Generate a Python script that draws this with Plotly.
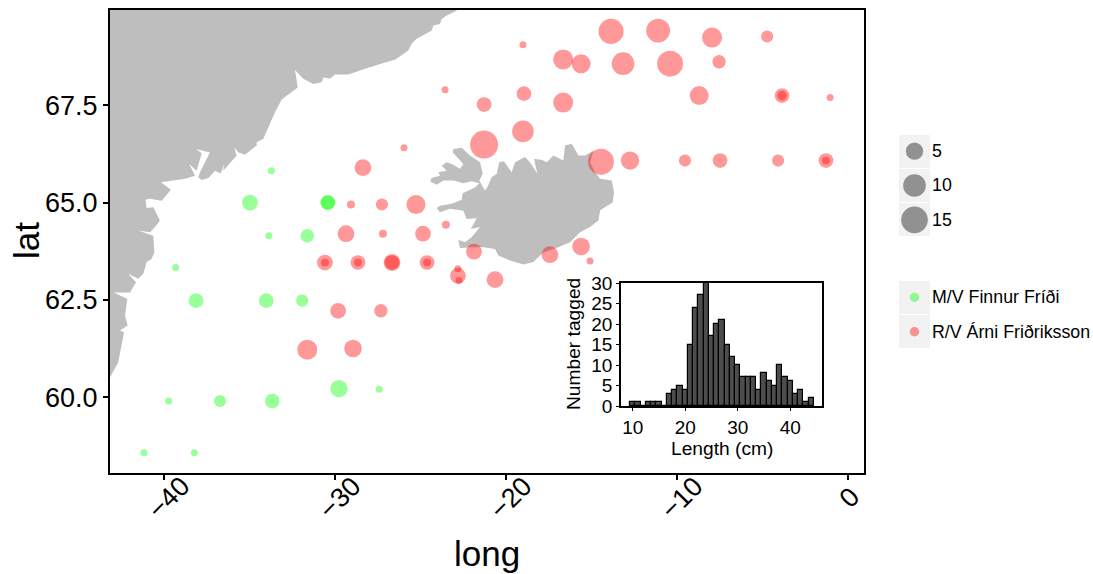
import numpy as np
import plotly.graph_objects as go

W, H = 1093, 574

# ---- data -------------------------------------------------------------
green_lon = [-33.7,-34.95,-30.4,-30.4,-33.85,-31.6,-39.3,-38.1,-34.0,-31.9,-29.75,-27.4,-39.7,-36.7,-33.65,-41.15,-38.2]
green_lat = [65.82,65.0,65.0,65.0,64.15,64.15,63.33,62.48,62.48,62.48,60.22,60.2,59.9,59.9,59.9,58.57,58.57]
green_n   = [1,4.4,4,4,1,3.5,1,4,4,3,5,1,1,3,4,1,1]

red_lon = [-13.85,-11.1,-7.95,-4.73,-19.0,-16.65,-15.6,-13.15,-10.4,-7.54,-23.55,-18.94,-21.27,-16.65,-8.7,-3.86,-3.86,-1.05,
           -19.0,-21.27,-25.95,-28.35,-14.44,-12.74,-9.53,-7.48,-4.09,-1.29,-1.29,-29.05,-27.24,-25.25,-29.34,-27.18,-24.84,-23.5,
           -30.57,-30.57,-28.64,-28.64,-26.65,-26.65,-24.6,-24.6,-21.86,-22.8,-22.8,-22.74,-20.63,-17.42,-15.6,-15.08,-29.8,-27.3,-31.6,-28.93]
red_lat = [69.4,69.42,69.24,69.27,69.06,68.68,68.57,68.57,68.57,68.62,67.9,67.8,67.52,67.57,67.75,67.75,67.75,67.7,
           66.83,66.49,66.41,65.9,66.05,66.08,66.08,66.08,66.08,66.08,66.08,64.95,64.95,64.95,64.2,64.2,64.2,64.43,
           63.46,63.46,63.46,63.46,63.46,63.46,63.46,63.46,63.74,63.12,63.3,63.0,63.02,63.66,63.87,63.5,62.22,62.22,61.22,61.25]
red_n = [13,11.5,7.5,3,1,7.5,6.6,10,14,3.5,1,4,4,7.5,6.6,4,2,1,
         9,16.5,1,4.8,14,6,3,4,3,4,1.4,1.4,3,6.6,4.8,1.4,4.4,1.4,
         4.4,1.4,4,1.4,4.8,4,4,1.4,4.4,4.4,1,1,4.8,4.8,5.3,1,4.4,3.5,7.5,5.3]

greenland_lon = [-22.3,-22.97,-23.45,-23.75,-23.85,-24.24,-24.33,-24.92,-25.21,-25.5,-25.7,-26.48,-27.16,-28.13,-29.2,-29.98,-30.27,-30.66,-30.76,-31.25,-31.84,-32.32,-32.22,-32.16,-33.1,-33.49,-34.17,-34.56,-34.56,-35.24,-35.63,-35.87,-35.73,-36.51,-36.47,-36.66,-36.99,-37.38,-37.77,-37.97,-37.87,-37.29,-38.1,-37.77,-38.07,-38.5,-38.16,-38.75,-40.15,-39.57,-40.11,-40.79,-41.05,-40.99,-40.6,-40.21,-40.5,-40.79,-41.48,-40.89,-40.6,-40.54,-40.7,-40.99,-41.18,-41.48,-42.06,-41.61,-41.96,-42.9,-42.12,-42.25,-42.1,-42.55,-42.31,-42.65,-43.13,-45,-50,-50]
greenland_lat = [70.1,69.91,69.81,69.72,69.59,69.55,69.42,69.29,69.21,69.08,68.91,68.67,68.59,68.45,68.29,68.29,68.18,68.22,68.09,68.05,68.18,68.41,68.18,67.96,67.65,67.32,66.64,66.55,66.47,66.23,66.29,66.42,66.21,65.82,65.99,65.75,65.82,65.63,65.58,65.65,65.78,66.29,66.38,66.27,65.82,65.99,65.69,65.61,65.52,65.33,65.05,65.1,65.07,64.86,64.88,64.54,64.37,64.24,64.28,64.2,64.15,63.72,63.55,63.47,63.17,63.04,63.17,62.95,62.69,62.69,62.52,62.09,61.84,61.71,61.67,60.89,60.51,60,60,70.1]

iceland_lon = [-23.07,-22.58,-22.09,-21.51,-21.35,-21.55,-21.22,-21.05,-20.83,-20.53,-20.38,-20.11,-19.66,-19.46,-18.88,-18.59,-18.16,-18.35,-17.9,-17.61,-17.22,-16.64,-16.54,-16.15,-15.76,-15.37,-14.88,-15.08,-14.79,-14.49,-13.81,-13.68,-13.75,-14.49,-14.59,-15.08,-15.66,-16.25,-16.93,-17.81,-18.39,-18.98,-19.75,-20.44,-20.63,-21.31,-22.0,-22.68,-22.77,-22.39,-22.0,-21.51,-22.05,-21.7,-22.29,-22.48,-23.26,-23.85,-24.04,-23.85,-23.16,-22.58,-22.52,-21.8,-21.55,-22.0,-22.48,-23.07,-23.65,-24.04,-24.43,-24.33,-23.85,-23.94,-23.46,-23.75,-23.46,-23.16,-22.68,-22.48,-23.1]
iceland_lat = [66.38,66.41,66.21,66.04,65.74,65.57,65.31,65.42,65.65,65.74,66.04,66.06,65.78,66.04,66.17,66.04,65.74,66.12,66.1,66.04,66.21,66.08,66.47,66.51,66.21,66.21,66.34,66.04,65.78,65.61,65.57,65.27,65.01,64.8,64.54,64.37,64.24,63.98,63.85,63.72,63.47,63.41,63.51,63.64,63.81,63.85,63.85,63.83,64.04,63.98,64.11,64.37,64.32,64.6,64.58,64.79,64.84,64.75,64.86,64.92,64.97,65.07,65.24,65.39,65.5,65.55,65.5,65.57,65.57,65.46,65.55,65.63,65.69,65.78,65.82,65.95,66.04,65.99,65.87,65.99,66.29]

length_cm = list(range(10, 45))
n_tagged  = [1,1,0,1,1,1,0,3,4,5,4,15,24,27,31,17,20,21,15,12,10,7,7,7,4,8,6,5,10,7,6,3,4,1,2]

long_ticks = [-40, -30, -20, -10, 0]
long_labels = ["−40", "−30", "−20", "−10", "0"]
size_breaks = [5, 10, 15]
vessels = ["M/V Finnur Fríði", "R/V Árni Friðriksson"]

# ---- style ------------------------------------------------------------
FONT = "Liberation Sans, Arial, sans-serif"
LAND = "#bebebe"
GREEN = "rgba(0,255,0,0.4)"
RED = "rgba(255,0,0,0.4)"
GREY = "rgba(0,0,0,0.4)"
KEY = "#f2f2f2"

def dia(n):
    return np.interp(n, [1, 5, 10, 15, 20], [7, 17.3, 22.7, 26.7, 31])

fig = go.Figure()
for lo, la in ((greenland_lon, greenland_lat), (iceland_lon, iceland_lat)):
    fig.add_trace(go.Scatter(x=lo, y=la, mode="lines", fill="toself", fillcolor=LAND,
                             line=dict(width=0, color=LAND), hoverinfo="skip"))
fig.add_trace(go.Scatter(x=green_lon, y=green_lat, mode="markers",
                         marker=dict(size=dia(green_n), color=GREEN, opacity=1, line=dict(width=0))))
fig.add_trace(go.Scatter(x=red_lon, y=red_lat, mode="markers",
                         marker=dict(size=dia(red_n), color=RED, opacity=1, line=dict(width=0))))

# inset histogram
fig.add_trace(go.Bar(x=length_cm, y=n_tagged, width=1, xaxis="x2", yaxis="y2",
                     marker=dict(color="#4d4d4d", line=dict(color="black", width=1.2))))

# size legend
fig.add_trace(go.Bar(x=[0, 0, 0], y=[0.96, 0.96, 0.96], width=0.96, base=[-0.48, 0.52, 1.52],
                     xaxis="x3", yaxis="y3", marker=dict(color=KEY, line=dict(width=0))))
fig.add_trace(go.Scatter(x=[0, 0, 0], y=[0, 1, 2], mode="markers", xaxis="x3", yaxis="y3",
                         marker=dict(size=dia(size_breaks), color=GREY, opacity=1, line=dict(width=0))))

# colour legend
fig.add_trace(go.Bar(x=[0, 0], y=[0.96, 0.96], width=0.96, base=[-0.48, 0.52],
                     xaxis="x4", yaxis="y4", marker=dict(color=KEY, line=dict(width=0))))
fig.add_trace(go.Scatter(x=[0, 0], y=[0, 1], mode="markers", xaxis="x4", yaxis="y4",
                         marker=dict(size=9.5, color=[GREEN, RED], opacity=1, line=dict(width=0))))

ann = []
for i, b in enumerate(size_breaks):
    ann.append(dict(x=0.5, y=i, xref="x3", yref="y3", text=str(b), showarrow=False, xanchor="left", yanchor="middle",
                    xshift=-1, font=dict(size=17.8, family=FONT, color="black")))
for i, v in enumerate(vessels):
    ann.append(dict(x=0.5, y=i, xref="x4", yref="y4", text=v, showarrow=False, xanchor="left", yanchor="middle",
                    xshift=-1, font=dict(size=17.8, family=FONT, color="black")))
for t, lab in zip(long_ticks, long_labels):
    ann.append(dict(x=t, y=1-498/H, xref="x", yref="paper", text=lab, showarrow=False, textangle=-45,
                    xshift=5 if t else 1, xanchor="center", yanchor="middle",
                    font=dict(size=27, family=FONT, color="black")))
def label(x, y, text, size, angle=0):
    ann.append(dict(x=x/W, y=1-y/H, xref="paper", yref="paper", text=text, showarrow=False, textangle=angle,
                    xanchor="center", yanchor="middle", font=dict(size=size, family=FONT, color="black")))
label(487, 553, "long", 35)
label(26, 241, "lat", 35, -90)
label(721.5, 448.5, "Length (cm)", 19.2)
label(573, 344, "Number tagged", 19.2, -90)

hidden = dict(visible=False, fixedrange=True, automargin=False)
fig.update_layout(
    width=W, height=H, margin=dict(l=0, r=0, t=0, b=0), showlegend=False,
    paper_bgcolor="white", plot_bgcolor="white", barmode="overlay", bargap=0,
    font=dict(family=FONT, color="black"), annotations=ann,
    xaxis=dict(domain=[110/W, 864/W], range=[-43.13, 0.93], tickvals=long_ticks, showticklabels=False,
               automargin=False, showgrid=False, zeroline=False, showline=True, mirror=True, linecolor="black", linewidth=2,
               ticks="outside", ticklen=5, tickwidth=2, tickcolor="black"),
    yaxis=dict(domain=[1-473/H, 1-10/H], range=[58.05, 69.95], tickvals=[60, 62.5, 65, 67.5], tickformat=".1f",
               automargin=False, showgrid=False, zeroline=False, showline=True, mirror=True, linecolor="black", linewidth=2,
               ticks="outside", ticklen=5, tickwidth=2, tickcolor="black", tickfont=dict(size=27)),
    xaxis2=dict(domain=[621/W, 822/W], range=[7.77, 46.05], anchor="y2", tickvals=[10, 20, 30, 40],
                automargin=False, showgrid=False, zeroline=False, showline=True, mirror=True, linecolor="black", linewidth=1.5,
                ticks="outside", ticklen=3, tickwidth=1.2, tickcolor="black", tickfont=dict(size=19)),
    yaxis2=dict(domain=[1-406/H, 1-283/H], range=[0, 30], anchor="x2", tickvals=[0, 5, 10, 15, 20, 25, 30],
                automargin=False, showgrid=False, zeroline=False, showline=True, mirror=True, linecolor="black", linewidth=1.5,
                ticks="outside", ticklen=3, tickwidth=1.2, tickcolor="black", tickfont=dict(size=19)),
    xaxis3=dict(domain=[898/W, 931/W], range=[-0.5, 0.5], anchor="y3", **hidden),
    yaxis3=dict(domain=[1-237/H, 1-134/H], range=[2.5, -0.5], anchor="x3", **hidden),
    xaxis4=dict(domain=[898/W, 931/W], range=[-0.5, 0.5], anchor="y4", **hidden),
    yaxis4=dict(domain=[1-349/H, 1-280/H], range=[1.5, -0.5], anchor="x4", **hidden),
)
fig.write_html("out.html", config=dict(displayModeBar=False), post_script="document.body.style.margin='0';")
